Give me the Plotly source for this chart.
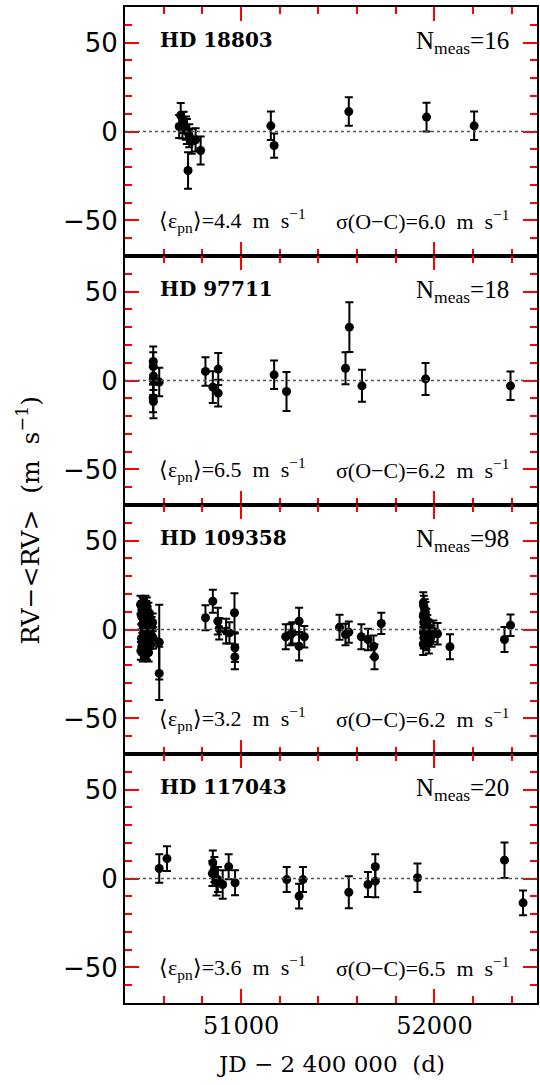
import plotly.graph_objects as go
from plotly.subplots import make_subplots

# ---- HD 18803 ----
jd_1 = [50680, 50688, 50697, 50703, 50715, 50720, 50726, 50732, 50745, 50765, 50791, 51154, 51171, 51557, 51959, 52205]
rv_1 = [2.8, 9.0, 3.5, 5.1, 1.9, 0.0, -21.9, -2.4, -5.5, -4.7, -10.7, 3.2, -7.9, 11.2, 8.1, 3.2]
err_1 = [6.5, 7.0, 7.5, 6.0, 6.5, 7.0, 10.3, 6.5, 7.0, 6.5, 7.9, 8.0, 6.8, 8.0, 8.1, 8.0]

# ---- HD 97711 ----
jd_2 = [50546, 50546, 50547, 50546, 50547, 50545, 50577, 50816, 50854, 50882, 50882, 51171, 51235, 51540, 51560, 51625, 51954, 52393]
rv_2 = [10.7, 7.9, 2.6, 0.4, -11.8, -9.9, -0.9, 5.1, -3.7, 6.4, -7.1, 3.2, -6.2, 6.9, 30.0, -3.0, 0.9, -3.0]
err_2 = [8.4, 8.0, 8.0, 8.5, 9.4, 8.0, 8.0, 8.0, 8.9, 9.0, 7.5, 8.0, 11.0, 9.0, 14.0, 9.0, 9.0, 8.0]

# ---- HD 109358 ----
jd_3 = [50480, 50482, 50484, 50485, 50487, 50488, 50490, 50491, 50492, 50494,
        50495, 50496, 50497, 50498, 50499, 50500, 50501, 50502, 50503, 50504,
        50505, 50506, 50507, 50508, 50509, 50510, 50511, 50512, 50513, 50514,
        50515, 50516, 50517, 50518, 50519, 50520, 50521, 50522, 50524, 50526,
        50528, 50530, 50532, 50535, 50538, 50540, 50543, 50546, 50577,
        50577, 50816, 50854, 50880, 50887, 50923, 50940, 50966, 50968, 50968,
        51231, 51257, 51265, 51300, 51300, 51327,
        51509, 51540, 51557, 51622, 51656, 51685, 51690, 51725,
        51942, 51945, 51950, 51953, 51942, 51958, 51945, 51963, 51950, 51968,
        51943, 51977, 51953, 51945, 51985, 51958, 51942, 51971, 51994, 51950,
        52016, 52080, 52362, 52393]
rv_3 = [14, -12, 8, -5, 11, -9, 3, 13, -13, 6,
        -2, 10, -7, 1, 12, -11, 5, -4, 9, -8,
        2, 14, -10, 7, -3, 11, -6, 0, 13, -12,
        4, -1, 8, -9, 6, -5, 10, -13, 3, -2,
        5, -6, 1, -3, 2, -4, 4, -4.7, -7.1,
        -24.7, 6.6, 15.9, 4.7, 0.4, -0.9, -1.9, 9.4, -10.3, -15.4,
        -4.1, -2.8, -1.9, 4.7, -9.4, -4.1,
        1.3, -2.8, -1.5, -4.1, -5.6, -9.4, -15.4, 3.4,
        15.0, 13.0, 11.0, 9.4, 7.5, 5.6, 3.7, 2.2, 0.9, -0.4,
        -1.5, -1.9, -2.8, -4.7, -3.7, -5.6, -8.4, -7.5, -0.9, 5.6,
        -2.4, -9.7, -5.6, 2.4]
err_3 = [5, 5, 5, 5, 5, 5, 5, 5, 5, 5,
         5, 5, 5, 5, 5, 5, 5, 5, 5, 5,
         5, 5, 5, 5, 5, 5, 5, 5, 5, 5,
         5, 5, 5, 5, 5, 5, 5, 5, 5, 5,
         5, 5, 5, 5, 5, 5, 5, 6, 21,
         15, 7, 6.5, 7.5, 6, 7, 6, 11, 8, 7,
         7, 6, 6, 7.5, 8, 6,
         7, 6, 6, 7, 6, 6, 7, 6,
         6, 6, 6, 6, 6, 6, 6, 6, 6, 6,
         6, 6, 6, 6, 6, 6, 6, 6, 6, 6,
         6, 7, 7, 6]

# ---- HD 117043 ----
jd_4 = [50577, 50617, 50854, 50852, 50873, 50880, 50905, 50936, 50969, 51236,
        51300, 51320, 51557, 51656, 51694, 51694, 51912, 52362, 52458, 50862]
rv_4 = [5.6, 11.2, 8.8, 2.8, -1.5, -0.6, -3.4, 6.6, -2.4, -0.6,
        -9.9, -0.6, -7.7, -3.4, 6.6, -1.5, 0.4, 10.3, -13.7, 5.1]
err_4 = [8, 7, 7, 7, 8, 7, 8, 7, 7, 7,
         7, 7, 9, 7, 7, 9, 8, 10, 7, 7]

stars = ["HD 18803", "HD 97711", "HD 109358", "HD 117043"]
n_meas = [16, 18, 98, 20]
eps_pn = ["4.4", "6.5", "3.2", "3.6"]
sigma_oc = ["6.0", "6.2", "6.2", "6.5"]

jds = [jd_1, jd_2, jd_3, jd_4]
rvs = [rv_1, rv_2, rv_3, rv_4]
errs = [err_1, err_2, err_3, err_4]

y_major = [-50, 0, 50]
y_minor = [-70, -60, -40, -30, -20, -10, 10, 20, 30, 40, 60, 70]
x_minor = [50400, 50600, 50800, 51200, 51400, 51600, 51800, 52200, 52400]

SERIF = "DejaVu Serif"
TIMES = "Liberation Serif"
SANS = "DejaVu Sans"
X_RANGE = [50400, 52530]
Y_RANGE = [-70, 70]
TICK_COLOR = "#ff0000"  # the only inside-tick colour that rendered in tests

fig = make_subplots(rows=4, cols=1, shared_xaxes=True, vertical_spacing=0)

for i in range(4):
    fig.add_trace(
        go.Scatter(
            x=jds[i], y=rvs[i], mode="markers",
            marker=dict(color="black", size=9),
            error_y=dict(type="data", array=errs[i], color="black", thickness=2, width=4),
            showlegend=False,
        ),
        row=i + 1, col=1,
    )
    # zero reference line
    fig.add_hline(y=0, line=dict(color="#555555", width=1.5, dash="dot"), row=i + 1, col=1)

    yref = "y" if i == 0 else f"y{i+1}"
    fig.add_annotation(text=f"<b>{stars[i]}</b>", x=0.08, y=51.5, xref="paper", yref=yref,
                       xanchor="left", yanchor="middle", showarrow=False,
                       font=dict(family=SERIF, size=20, color="black"))
    fig.add_annotation(text=f"N<sub>meas</sub>={n_meas[i]}", x=0.937, y=50, xref="paper", yref=yref,
                       xanchor="right", yanchor="middle", showarrow=False,
                       font=dict(family=TIMES, size=25, color="black"))
    fig.add_annotation(text=f"⟨ε<sub>pn</sub>⟩={eps_pn[i]}&nbsp; m&nbsp; s<sup>−1</sup>",
                       x=0.077, y=-50, xref="paper", yref=yref,
                       xanchor="left", yanchor="middle", showarrow=False,
                       font=dict(family=TIMES, size=22, color="black"))
    fig.add_annotation(text=f"σ(O−C)={sigma_oc[i]}&nbsp; m&nbsp; s<sup>−1</sup>",
                       x=0.937, y=-50, xref="paper", yref=yref,
                       xanchor="right", yanchor="middle", showarrow=False,
                       font=dict(family=TIMES, size=22, color="black"))

axis_common = dict(
    showline=True, linewidth=2, linecolor="black", mirror="ticks",
    ticks="inside", ticklen=14, tickwidth=2, tickcolor=TICK_COLOR,
    showgrid=False, zeroline=False,
)
fig.update_yaxes(range=Y_RANGE, tickvals=y_major,
                 tickfont=dict(family=SANS, size=26, color="black"), **axis_common)
fig.update_xaxes(range=X_RANGE, dtick=1000, tick0=50000, tickformat="d",
                 tickfont=dict(family=SERIF, size=24, color="black"), **axis_common)

# minor ticks on overlaying axes (one pair per panel)
minor_common = dict(ticks="inside", ticklen=7, tickwidth=2, tickcolor=TICK_COLOR,
                    showticklabels=False, mirror="ticks", showline=False,
                    showgrid=False, zeroline=False)
for i in range(4):
    n = i + 1
    xa = "x" if n == 1 else f"x{n}"
    ya = "y" if n == 1 else f"y{n}"
    fig.layout[f"xaxis{n + 4}"] = dict(overlaying=xa, anchor=f"y{n + 4}", range=X_RANGE,
                                       tickvals=x_minor, **minor_common)
    fig.layout[f"yaxis{n + 4}"] = dict(overlaying=ya, anchor=f"x{n + 4}", range=Y_RANGE,
                                       tickvals=y_minor, **minor_common)
    fig.add_trace(go.Scatter(x=[], y=[], xaxis=f"x{n + 4}", yaxis=f"y{n + 4}",
                             showlegend=False, hoverinfo="skip"))

fig.add_annotation(text="JD − 2 400 000  (d)", x=0.5, y=-(1064 - 1003) / 996, xref="paper", yref="paper",
                   xanchor="center", yanchor="middle",
                   showarrow=False, font=dict(family=SERIF, size=23, color="black"))
fig.add_annotation(text="RV−&lt;RV&gt;  (m  s<sup>−1</sup>)", x=(28 - 125) / 414, y=(1003 - 520) / 996,
                   xref="paper", yref="paper", xanchor="center", yanchor="middle",
                   textangle=-90, showarrow=False, font=dict(family=SERIF, size=25, color="black"))

fig.update_layout(
    width=540, height=1085,
    margin=dict(l=125, r=1, t=7, b=82),
    plot_bgcolor="white", paper_bgcolor="white",
)

fig.write_html("out.html", config={"displayModeBar": False},
               post_script="document.body.style.margin='0px';")
